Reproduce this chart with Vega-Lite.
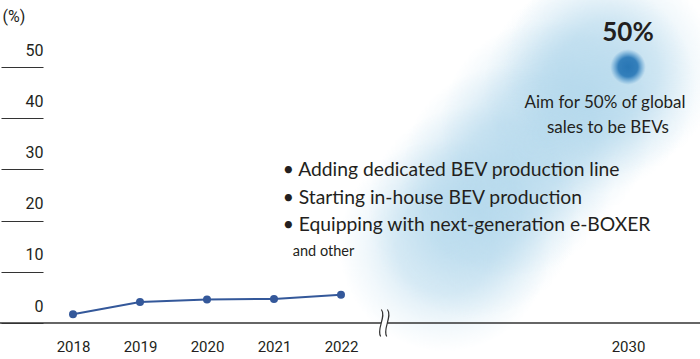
{
  "$schema": "https://vega.github.io/schema/vega-lite/v6.json",
  "width": 700,
  "height": 359,
  "autosize": {"type": "none"},
  "padding": 0,
  "background": "white",
  "config": {"view": {"stroke": null}},
  "datasets": {
    "series": [
      {"year": 2018, "share": 1.7},
      {"year": 2019, "share": 4.1},
      {"year": 2020, "share": 4.6},
      {"year": 2021, "share": 4.7},
      {"year": 2022, "share": 5.5}
    ],
    "glow": [
      {"year": 2024.9, "share": 15.2},
      {"year": 2025.7, "share": 21.7},
      {"year": 2026.65, "share": 29.5},
      {"year": 2027.74, "share": 38.3},
      {"year": 2028.94, "share": 46.0},
      {"year": 2029.5, "share": 49.5}
    ],
    "target": [{"year": 2030, "share": 50}],
    "bullets": [
      {"year": 2021.13, "share": 29.9, "label": "• Adding dedicated BEV production line"},
      {"year": 2021.13, "share": 24.4, "label": "• Starting in-house BEV production"},
      {"year": 2021.13, "share": 19.1, "label": "• Equipping with next-generation e-BOXER"}
    ],
    "other": [{"year": 2021.28, "share": 13.9, "label": "and other"}],
    "aim": [
      {"year": 2029.36, "share": 42.97, "label": "Aim for 50% of global"},
      {"year": 2029.44, "share": 38.09, "label": "sales to be BEVs"}
    ],
    "big": [{"year": 2030, "share": 56.6, "label": "50%"}],
    "brk": [{"year": 2023.2, "share": 0}],
    "base": [{"share": 0}]
  },
  "layer": [
    {
      "data": {"name": "glow"},
      "mark": {
        "type": "circle", "size": 45239, "opacity": 1, "strokeWidth": 0,
        "fill": {"gradient": "radial", "x1": 0.5, "y1": 0.5, "r1": 0, "x2": 0.5, "y2": 0.5, "r2": 0.5,
          "stops": [
            {"offset": 0, "color": "rgba(168,210,233,0.5)"},
            {"offset": 0.45, "color": "rgba(168,210,233,0.42)"},
            {"offset": 0.75, "color": "rgba(168,210,233,0.16)"},
            {"offset": 1, "color": "rgba(168,210,233,0)"}
          ]}
      },
      "encoding": {
        "x": {"field": "year", "type": "quantitative",
          "scale": {"domain": [2018, 2022, 2030], "range": [73, 341, 628], "nice": false, "zero": false},
          "axis": {"orient": "bottom", "offset": -36, "values": [2018, 2019, 2020, 2021, 2022, 2030], "format": "d",
            "domain": false, "ticks": false, "grid": false, "title": null, "labelPadding": 16, "labelBaseline": "top",
            "labelFontSize": 15, "labelFont": "Roboto", "labelColor": "#231f20",
            "labelOverlap": false, "labelFlush": false, "labelBound": false}},
        "y": {"field": "share", "type": "quantitative",
          "scale": {"domain": [0, 50], "range": [323, 67], "nice": false, "zero": false},
          "axis": {"orient": "left", "offset": -43, "values": [0, 10, 20, 30, 40, 50], "domain": false, "grid": false,
            "ticks": true, "tickSize": 42, "tickColor": "#333333", "tickWidth": 1.2,
            "labelAlign": "right", "labelBaseline": "middle", "labelPadding": -42, "labelOffset": -17,
            "labelFontSize": 16, "labelFont": "Roboto", "labelColor": "#231f20",
            "labelOverlap": false, "labelBound": false, "labelFlush": false,
            "title": "(%)", "titleAngle": 0, "titleX": -41, "titleY": 16, "titleAlign": "left", "titleBaseline": "middle",
            "titleFontSize": 16, "titleFontWeight": "normal", "titleFont": "Roboto", "titleColor": "#231f20"}}
      }
    },
    {
      "data": {"name": "target"},
      "mark": {
        "type": "circle", "size": 1250, "opacity": 1, "strokeWidth": 0,
        "fill": {"gradient": "radial", "x1": 0.5, "y1": 0.5, "r1": 0, "x2": 0.5, "y2": 0.5, "r2": 0.5,
          "stops": [
            {"offset": 0, "color": "rgba(40,118,180,1)"},
            {"offset": 0.55, "color": "rgba(44,122,184,0.95)"},
            {"offset": 1, "color": "rgba(60,140,200,0)"}
          ]}
      },
      "encoding": {
        "x": {"field": "year", "type": "quantitative"},
        "y": {"field": "share", "type": "quantitative"}
      }
    },
    {
      "data": {"name": "base"},
      "mark": {"type": "rule", "color": "#333333", "strokeWidth": 1.6},
      "encoding": {"y": {"field": "share", "type": "quantitative"}}
    },
    {
      "data": {"name": "brk"},
      "mark": {"type": "point", "filled": true, "fill": "white", "strokeWidth": 0, "opacity": 1, "size": 729,
        "shape": "M -0.22 -0.15 L 0.22 -0.15 L 0.22 0.15 L -0.22 0.15 Z"},
      "encoding": {
        "x": {"field": "year", "type": "quantitative"},
        "y": {"field": "share", "type": "quantitative"}
      }
    },
    {
      "data": {"name": "brk"},
      "mark": {"type": "point", "filled": false, "stroke": "#333333", "strokeWidth": 1.2, "opacity": 1, "size": 729,
        "shape": "M -0.2 -1 C 0.2 -0.5 -0.6 0.5 -0.25 1 M 0.25 -1 C 0.65 -0.5 -0.15 0.5 0.2 1"},
      "encoding": {
        "x": {"field": "year", "type": "quantitative"},
        "y": {"field": "share", "type": "quantitative"}
      }
    },
    {
      "data": {"name": "series"},
      "mark": {"type": "line", "color": "#34589a", "strokeWidth": 2,
        "point": {"filled": true, "size": 64, "color": "#34589a", "opacity": 1}},
      "encoding": {
        "x": {"field": "year", "type": "quantitative"},
        "y": {"field": "share", "type": "quantitative"}
      }
    },
    {
      "data": {"name": "bullets"},
      "mark": {"type": "text", "align": "left", "baseline": "middle", "font": "Lato", "fontSize": 19.3, "color": "#231f20"},
      "encoding": {
        "x": {"field": "year", "type": "quantitative"},
        "y": {"field": "share", "type": "quantitative"},
        "text": {"field": "label"}
      }
    },
    {
      "data": {"name": "other"},
      "mark": {"type": "text", "align": "left", "baseline": "middle", "font": "Lato", "fontSize": 14.5, "color": "#231f20"},
      "encoding": {
        "x": {"field": "year", "type": "quantitative"},
        "y": {"field": "share", "type": "quantitative"},
        "text": {"field": "label"}
      }
    },
    {
      "data": {"name": "aim"},
      "mark": {"type": "text", "align": "center", "baseline": "middle", "font": "Lato", "fontSize": 17, "color": "#231f20"},
      "encoding": {
        "x": {"field": "year", "type": "quantitative"},
        "y": {"field": "share", "type": "quantitative"},
        "text": {"field": "label"}
      }
    },
    {
      "data": {"name": "big"},
      "mark": {"type": "text", "align": "center", "baseline": "middle", "font": "Lato", "fontSize": 26, "fontWeight": "bold", "color": "#231f20"},
      "encoding": {
        "x": {"field": "year", "type": "quantitative"},
        "y": {"field": "share", "type": "quantitative"},
        "text": {"field": "label"}
      }
    }
  ]
}
